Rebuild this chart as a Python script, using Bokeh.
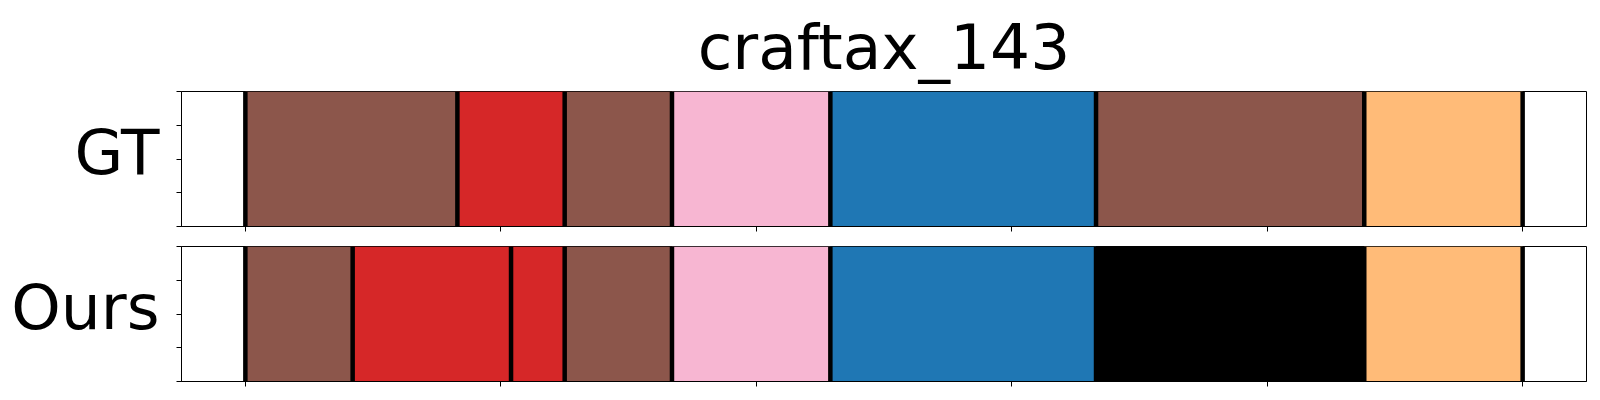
from bokeh.plotting import figure
from bokeh.layouts import column
from bokeh.models import FixedTicker, Range1d
from bokeh.embed import file_html
from bokeh.resources import INLINE

title_text = "craftax_143"
row_labels = ["GT", "Ours"]
x_ticks = [0, 100, 200, 300, 400, 500]
y_ticks = [0, 0.25, 0.5, 0.75, 1]

gt_starts = [0, 83, 125, 167, 229, 333, 438]
gt_ends = [83, 125, 167, 229, 333, 438, 500]
gt_colors = ["#8c564b", "#d62728", "#8c564b", "#f7b6d2", "#1f77b4", "#8c564b", "#ffbb78"]

ours_starts = [0, 42, 104, 125, 167, 229, 333, 438]
ours_ends = [42, 104, 125, 167, 229, 333, 438, 500]
ours_colors = ["#8c564b", "#d62728", "#d62728", "#8c564b", "#f7b6d2", "#1f77b4", "#000000", "#ffbb78"]

FONT = "DejaVu Sans"
LABEL_POS = 0.55  # vertical placement of the row label (style)


def make_panel(label, starts, ends, colors, title=None, top=10, bottom=10):
    kw = {}
    if title is not None:
        kw["title"] = title
    p = figure(frame_width=1405, frame_height=135, output_backend="svg",
               toolbar_location=None, x_range=Range1d(-25, 525), y_range=Range1d(0, 1),
               min_border_left=181, min_border_right=6, min_border_top=top,
               min_border_bottom=bottom, **kw)
    p.background_fill_color = "white"
    p.border_fill_color = "white"
    p.outline_line_color = "black"
    p.outline_line_width = 1
    p.xgrid.visible = False
    p.ygrid.visible = False

    p.quad(left=starts, right=ends, bottom=0, top=1, fill_color=colors, line_color=None)
    bounds = sorted(set(starts) | set(ends))
    p.segment(x0=bounds, y0=[0] * len(bounds), x1=bounds, y1=[1] * len(bounds),
              line_color="black", line_width=4.5)

    # x axis: tick marks only (drawn as minor ticks, no labels)
    p.xaxis.ticker = FixedTicker(ticks=[], minor_ticks=x_ticks)
    p.xaxis.major_label_text_font_size = "1px"
    p.xaxis.major_label_text_color = None
    p.xaxis.major_label_standoff = 0
    p.xaxis.major_tick_out = 0
    p.xaxis.major_tick_in = 0
    p.xaxis.minor_tick_out = 5
    p.xaxis.minor_tick_in = 0
    p.xaxis.axis_line_color = "black"
    p.xaxis.minor_tick_line_color = "black"

    # y axis: tick marks as minor ticks, one major (invisible) tick carrying the row label
    p.yaxis.ticker = FixedTicker(ticks=[LABEL_POS], minor_ticks=y_ticks)
    p.yaxis.major_label_overrides = {LABEL_POS: label}
    p.yaxis.major_label_text_font = FONT
    p.yaxis.major_label_text_font_size = "63px"
    p.yaxis.major_label_text_color = "black"
    p.yaxis.major_label_standoff = 17
    p.yaxis.major_tick_out = 0
    p.yaxis.major_tick_in = 0
    p.yaxis.minor_tick_out = 5
    p.yaxis.minor_tick_in = 0
    p.yaxis.axis_line_color = "black"
    p.yaxis.minor_tick_line_color = "black"

    if title is not None:
        p.title.text_font = FONT
        p.title.text_font_size = "63px"
        p.title.text_font_style = "normal"
        p.title.text_color = "black"
        p.title.align = "center"
        p.title.standoff = 16
    return p


p1 = make_panel(row_labels[0], gt_starts, gt_ends, gt_colors, title=title_text, top=90, bottom=10)
p2 = make_panel(row_labels[1], ours_starts, ours_ends, ours_colors, top=10, bottom=10)

layout = column(p1, p2, spacing=0)
open("out.html", "w").write(file_html(layout, INLINE))
